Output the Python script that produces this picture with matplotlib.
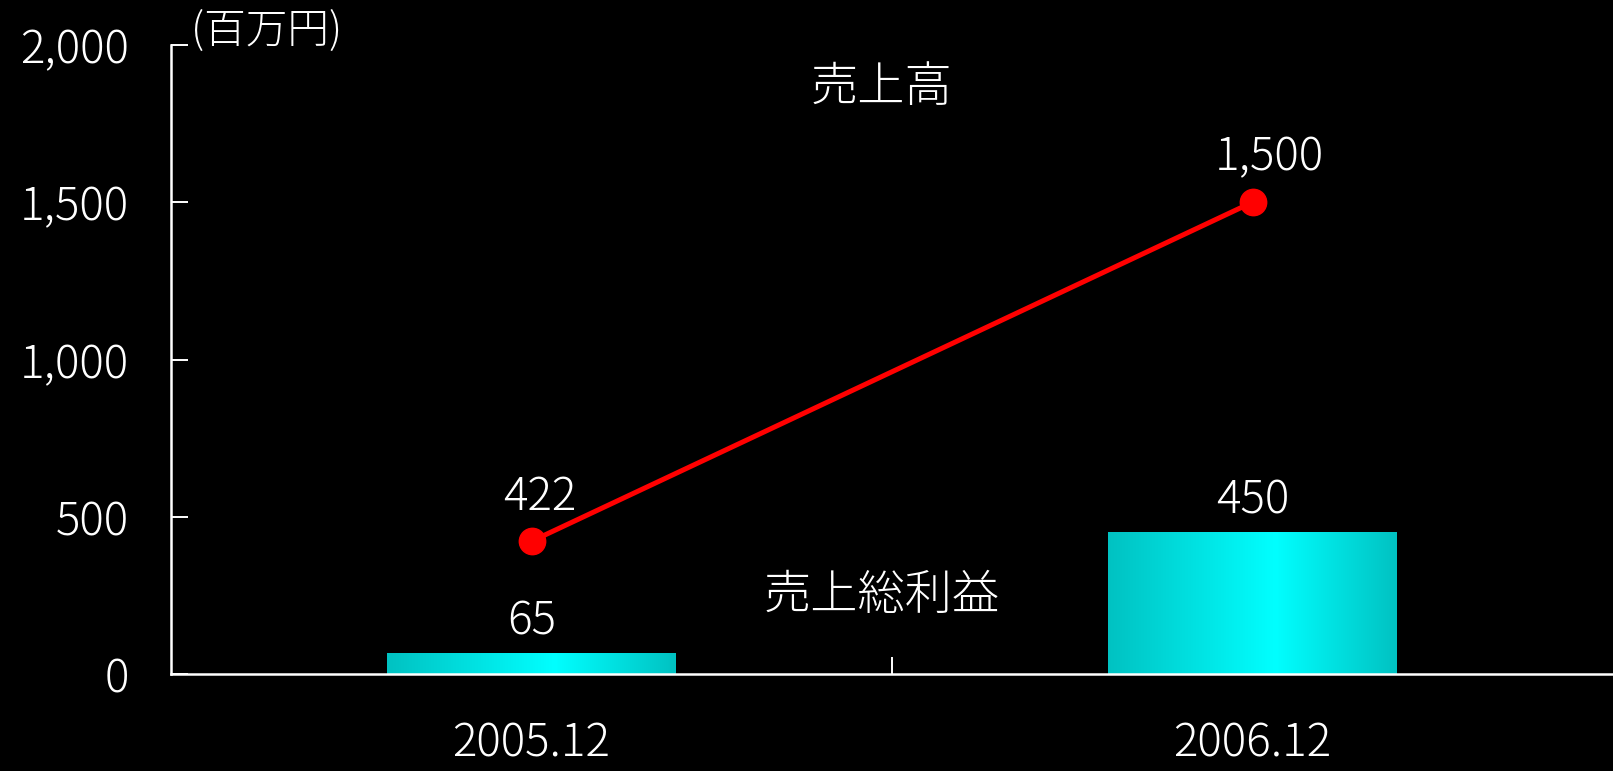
import numpy as np
import matplotlib.pyplot as plt
from matplotlib.colors import LinearSegmentedColormap

plt.rcParams['font.family'] = ['Noto Sans CJK JP', 'DejaVu Sans']
plt.rcParams['font.weight'] = 'light'

# data
periods = ['2005.12', '2006.12']
sales = [422, 1500]          # 売上高 (line)
gross_profit = [65, 450]     # 売上総利益 (bars)
sales_labels = ['422', '1,500']
profit_labels = ['65', '450']
y_ticks = [0, 500, 1000, 1500, 2000]
y_tick_labels = ['0', '500', '1,000', '1,500', '2,000']

fig = plt.figure(figsize=(16.13, 7.71), dpi=100, facecolor='black')
ax = fig.add_axes([171 / 1613, 97 / 771, 1 - 171 / 1613, 629 / 771])
ax.set_facecolor('black')

x = np.arange(len(periods))
bar_w = 0.4

# gradient bars
cmap = LinearSegmentedColormap.from_list(
    'cy', [(0.0, '#00c2c2'), (0.58, '#00ffff'), (1.0, '#00c2c2')])
grad = np.linspace(0, 1, 256).reshape(1, -1)
bars = ax.bar(x, gross_profit, width=bar_w, color='none', zorder=2)
for b in bars:
    x0, w, h = b.get_x(), b.get_width(), b.get_height()
    ax.imshow(grad, cmap=cmap, aspect='auto', extent=(x0, x0 + w, 0, h),
              zorder=2, interpolation='bicubic')

# line
ax.plot(x, sales, color='#ff0000', lw=3.6, marker='o', markersize=19,
        zorder=4)

# value labels
for xi, v, s, dx in zip(x, sales, sales_labels, [6, 12]):
    ax.annotate(s, (xi, v), xytext=(dx, 32), textcoords='offset points',
                ha='center', va='center', color='white', fontsize=33)
for xi, v, s in zip(x, gross_profit, profit_labels):
    ax.annotate(s, (xi, v), xytext=(0, 23), textcoords='offset points',
                ha='center', va='center', color='white', fontsize=33)

ax.text(0.485, 1865, '売上高', ha='center', va='center', color='white',
        fontsize=34)
ax.text(0.485, 250, '売上総利益', ha='center', va='center', color='white',
        fontsize=34)
ax.text(-0.472, 2045, '(百万円)', ha='left', va='center', color='white',
        fontsize=30, clip_on=False)

ax.set_xlim(-0.5, 1.5)
ax.set_ylim(0, 2000)

for side in ['top', 'right']:
    ax.spines[side].set_visible(False)
for side in ['left', 'bottom']:
    ax.spines[side].set_color('white')
    ax.spines[side].set_linewidth(1.8)

ax.set_yticks(y_ticks)
ax.set_yticklabels(y_tick_labels)
ax.tick_params(axis='y', direction='in', length=12, width=1.4,
               colors='white', labelsize=33, pad=30)

ax.set_xticks(x)
ax.set_xticklabels(periods)
ax.tick_params(axis='x', which='major', length=0, colors='white',
               labelsize=33, pad=33)
ax.set_xticks([0.5], minor=True)
ax.tick_params(axis='x', which='minor', direction='in', length=12,
               width=1.4, color='white')

fig.savefig('out.png', dpi=100, facecolor='black')
